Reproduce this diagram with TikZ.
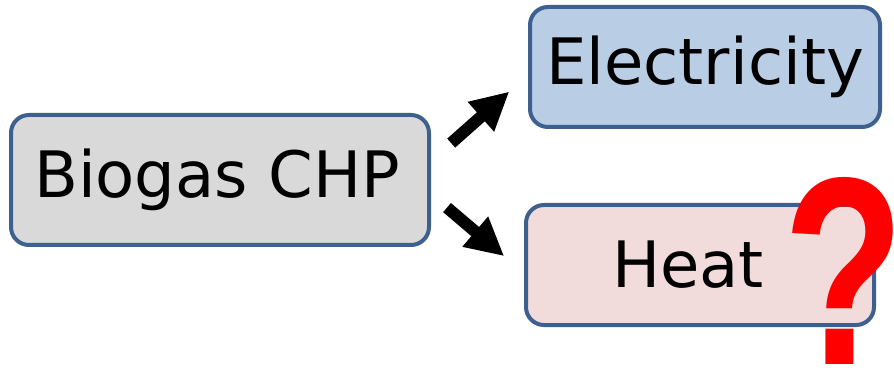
\documentclass[tikz,border=0pt]{standalone}
\usepackage{fontspec}
\setmainfont{DejaVu Sans}
\newfontfamily\qfont{Liberation Sans}
\usepackage{xcolor}
\usepackage{tikz}
\usetikzlibrary{arrows.meta, positioning, calc}
\definecolor{edge}{RGB}{62,96,142}
\definecolor{chpbox}{RGB}{217,217,217}
\definecolor{elbox}{RGB}{185,205,229}
\definecolor{heatbox}{RGB}{242,220,219}

\begin{document}
\begin{tikzpicture}[
  x=1pt, y=1pt,
  block/.style={
    draw=edge, line width=4pt, rounded corners=18pt,
    minimum height=120pt, align=center, font=\fontsize{64}{70}\selectfont
  },
  arr/.style={-{Triangle[length=38pt, width=37pt]}, line width=12pt, black}
]
  \useasboundingbox (0,0) rectangle (894,367);

  \node[block, fill=chpbox, minimum width=418pt, minimum height=130pt] (bio) at (220,187) {Biogas CHP\hspace{6pt}};
  \node[block, fill=elbox, minimum width=350pt] (elec) at (705,300) {Electricity};
  \node[block, fill=heatbox, minimum width=348pt] (heat) at (700,102) {Heat\hspace{24pt}};

  \draw[arr, shorten <=27pt, shorten >=25pt] ([yshift=19pt]bio.east) -- ([yshift=-8pt]elec.west);
  \draw[arr, shorten <=21pt, shorten >=26pt] ([yshift=-14pt]bio.east) -- ([yshift=-8pt]heat.west);

  % open question on the heat side
  \node[inner sep=0pt, anchor=base, text=red, font=\qfont\bfseries\fontsize{268}{268}\selectfont]
    (qmark) at (844,3) {\scalebox{0.74}[1]{?}};
\end{tikzpicture}
\end{document}
